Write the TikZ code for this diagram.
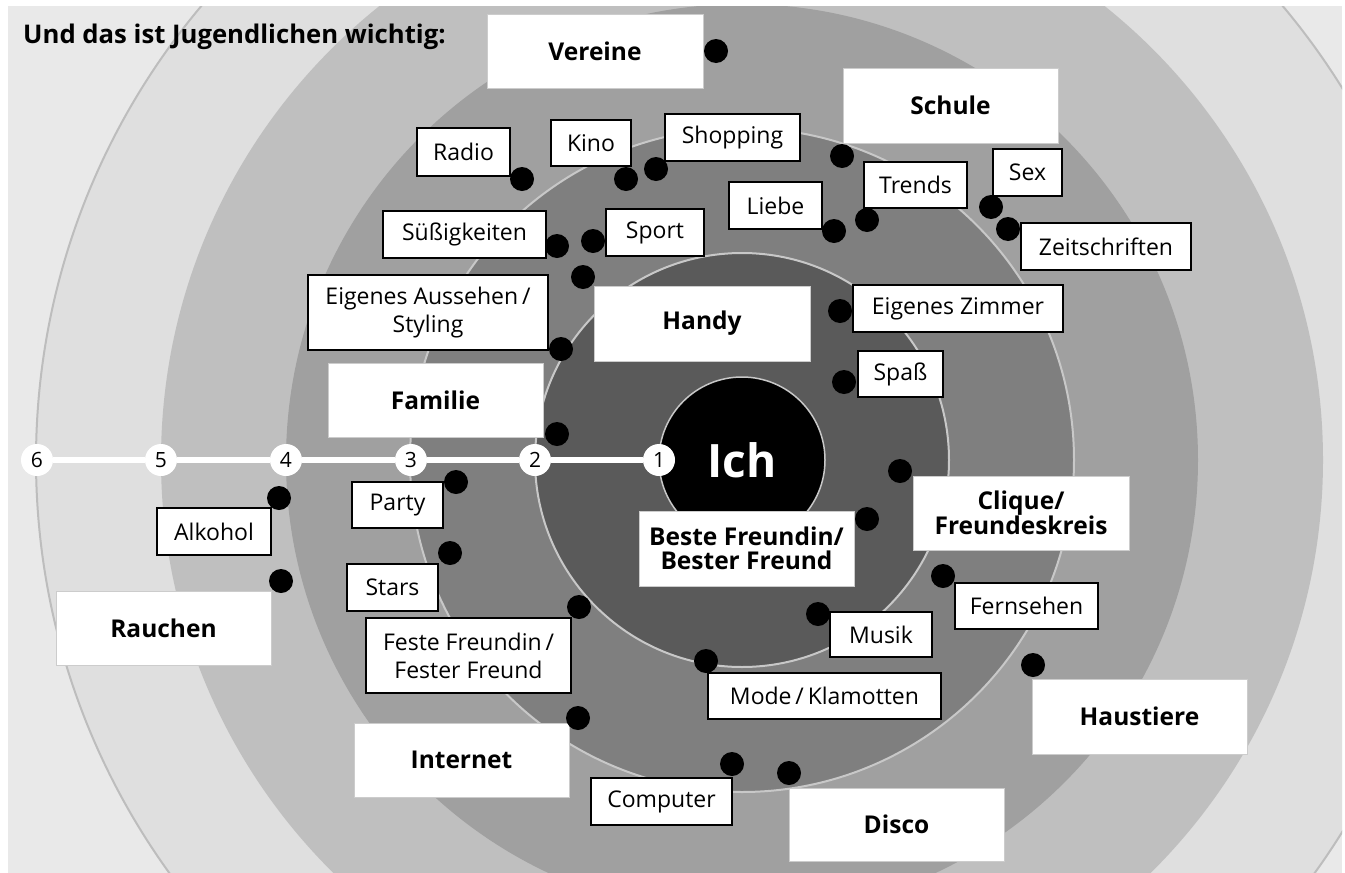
\documentclass[tikz,border=0pt]{standalone}
\usepackage{fontspec}
\setmainfont{Open Sans}
\definecolor{bgout}{HTML}{E9E9E9}
\definecolor{ringsix}{HTML}{DFDFDF}
\definecolor{ringfive}{HTML}{BFBFBF}
\definecolor{ringfour}{HTML}{A0A0A0}
\definecolor{ringthree}{HTML}{7F7F7F}
\definecolor{ringtwo}{HTML}{5A5A5A}
\definecolor{ringline}{HTML}{C8C8C8}
\definecolor{outline}{HTML}{BDBDBD}
\definecolor{boldedge}{HTML}{CCCCCC}
\begin{document}
\begin{tikzpicture}[x=1pt,y=-1pt,
  nbox/.style={draw=black,line width=1.2pt,fill=white,inner sep=0pt,align=center,
    font=\fontsize{23}{28}\selectfont},
  bbox/.style={draw=boldedge,line width=1pt,fill=white,inner sep=0pt,align=center,
    font=\fontsize{24.5}{24}\selectfont\bfseries},
  dot/.style={circle,fill=black,inner sep=0pt,minimum size=24pt},
  num/.style={circle,fill=white,inner sep=0pt,minimum size=32pt,font=\fontsize{21}{21}\selectfont},
  axis/.style={white,line width=6pt}
]
\useasboundingbox (0,0) rectangle (1345,873);
\fill[white] (0,0) rectangle (1345,873);
\fill[bgout] (8,6) rectangle (1342,873);
\begin{scope}
\clip (8,6) rectangle (1342,873);
\coordinate (c) at (742,460);
\fill[ringsix] (c) circle[radius=706];
\draw[outline,line width=2pt] (c) circle[radius=706];
\fill[ringfive] (c) circle[radius=581];
\fill[ringfour] (c) circle[radius=456];
\fill[ringthree] (c) circle[radius=332];
\draw[ringline,line width=2pt] (c) circle[radius=332];
\fill[ringtwo] (c) circle[radius=207];
\draw[ringline,line width=2pt] (c) circle[radius=207];
\end{scope}
\node[circle,fill=black,draw=ringline,line width=1.5pt,minimum size=166pt,inner sep=0pt,
  text=white,font=\fontsize{46}{46}\selectfont\bfseries] (ich) at (742,460) {Ich};

% scale
\node[num] (n6) at (37,460) {6};
\node[num] (n5) at (161,460) {5};
\node[num] (n4) at (286,460) {4};
\node[num] (n3) at (411,460) {3};
\node[num] (n2) at (535,460) {2};
\node[num] (n1) at (659,460) {1};
\draw[axis] (n6) -- (n5) (n5) -- (n4) (n4) -- (n3) (n3) -- (n2) (n2) -- (n1);

% title
\node[anchor=base west,inner sep=0pt,font=\fontsize{25.7}{26}\selectfont\bfseries] (title) at (23,43) {Und das ist Jugendlichen wichtig:};

% bold boxes
\node[bbox,minimum width=216,minimum height=74] (vereine) at (595,51) {Vereine};
\node[bbox,minimum width=215,minimum height=75] (schule) at (950.5,105.5) {Schule};
\node[bbox,minimum width=216,minimum height=75] (handy) at (702,323.5) {Handy};
\node[bbox,minimum width=215,minimum height=74] (familie) at (435.5,400) {Familie};
\node[bbox,minimum width=215,minimum height=75] (beste) at (746.5,548.5) {Beste Freundin/\\Bester Freund};
\node[bbox,minimum width=216,minimum height=74] (clique) at (1021,513) {Clique/\\Freundeskreis};
\node[bbox,minimum width=215,minimum height=74] (rauchen) at (163.5,628) {Rauchen};
\node[bbox,minimum width=215,minimum height=74] (internet) at (461.5,760) {Internet};
\node[bbox,minimum width=215,minimum height=73] (disco) at (896.5,824.5) {Disco};
\node[bbox,minimum width=215,minimum height=75] (haustiere) at (1139.5,716.5) {Haustiere};

% normal boxes
\node[nbox,minimum width=93,minimum height=48] (radio) at (463.5,152) {Radio};
\node[nbox,minimum width=80,minimum height=46] (kino) at (591,143) {Kino};
\node[nbox,minimum width=135,minimum height=47] (shopping) at (732.5,137.5) {Shopping};
\node[nbox,minimum width=163,minimum height=47] (suess) at (464.5,234.5) {Süßigkeiten};
\node[nbox,minimum width=98,minimum height=47] (sport) at (655,232.5) {Sport};
\node[nbox,minimum width=93,minimum height=47] (liebe) at (775.5,205.5) {Liebe};
\node[nbox,minimum width=103,minimum height=46] (trends) at (915.5,185) {Trends};
\node[nbox,minimum width=69,minimum height=47] (sex) at (1027.5,172.5) {Sex};
\node[nbox,minimum width=170,minimum height=47] (zeit) at (1106,246.5) {Zeitschriften};
\node[nbox,minimum width=240,minimum height=75] (aussehen) at (428,312.5) {Eigenes Aussehen\,/\\Styling};
\node[nbox,minimum width=210,minimum height=47] (zimmer) at (958,308.5) {Eigenes Zimmer};
\node[nbox,minimum width=85,minimum height=46] (spass) at (900.5,374) {Spaß};
\node[nbox,minimum width=91,minimum height=46] (party) at (397.5,505) {Party};
\node[nbox,minimum width=114,minimum height=47] (alkohol) at (214,531.5) {Alkohol};
\node[nbox,minimum width=91,minimum height=47] (stars) at (392.5,587.5) {Stars};
\node[nbox,minimum width=205,minimum height=75] (feste) at (468.5,655.5) {Feste Freundin\,/\\Fester Freund};
\node[nbox,minimum width=102,minimum height=45] (musik) at (881,634.5) {Musik};
\node[nbox,minimum width=143,minimum height=46] (fernsehen) at (1026.5,606) {Fernsehen};
\node[nbox,minimum width=233,minimum height=46] (mode) at (824.5,696) {Mode\,/\,Klamotten};
\node[nbox,minimum width=141,minimum height=47] (computer) at (661.5,801.5) {Computer};

% dots
\node[dot] (dvereine) at (716,51) {};
\node[dot] (dradio) at (522,179) {};
\node[dot] (dkino) at (626,179) {};
\node[dot] (dshopping) at (656,169) {};
\node[dot] (dschule) at (842,156) {};
\node[dot] (dtrends) at (867,220) {};
\node[dot] (dliebe) at (834,231) {};
\node[dot] (dsport) at (593,241) {};
\node[dot] (dsuess) at (557,246) {};
\node[dot] (dhandy) at (583,277) {};
\node[dot] (dzimmer) at (840,311) {};
\node[dot] (dsex) at (991,207) {};
\node[dot] (dzeit) at (1008,229) {};
\node[dot] (daussehen) at (561,349) {};
\node[dot] (dfamilie) at (557,434) {};
\node[dot] (dspass) at (844,382) {};
\node[dot] (dclique) at (900,471) {};
\node[dot] (dbeste) at (867,519) {};
\node[dot] (dparty) at (456,482) {};
\node[dot] (dalkohol) at (279,498) {};
\node[dot] (dstars) at (450,553) {};
\node[dot] (drauchen) at (281,581) {};
\node[dot] (dfeste) at (579,607) {};
\node[dot] (dfernsehen) at (943,576) {};
\node[dot] (dmusik) at (818,614) {};
\node[dot] (dmode) at (706,661) {};
\node[dot] (dhaustiere) at (1033,665) {};
\node[dot] (dinternet) at (578,718) {};
\node[dot] (dcomputer) at (732,764) {};
\node[dot] (ddisco) at (789,773) {};
\end{tikzpicture}
\end{document}
